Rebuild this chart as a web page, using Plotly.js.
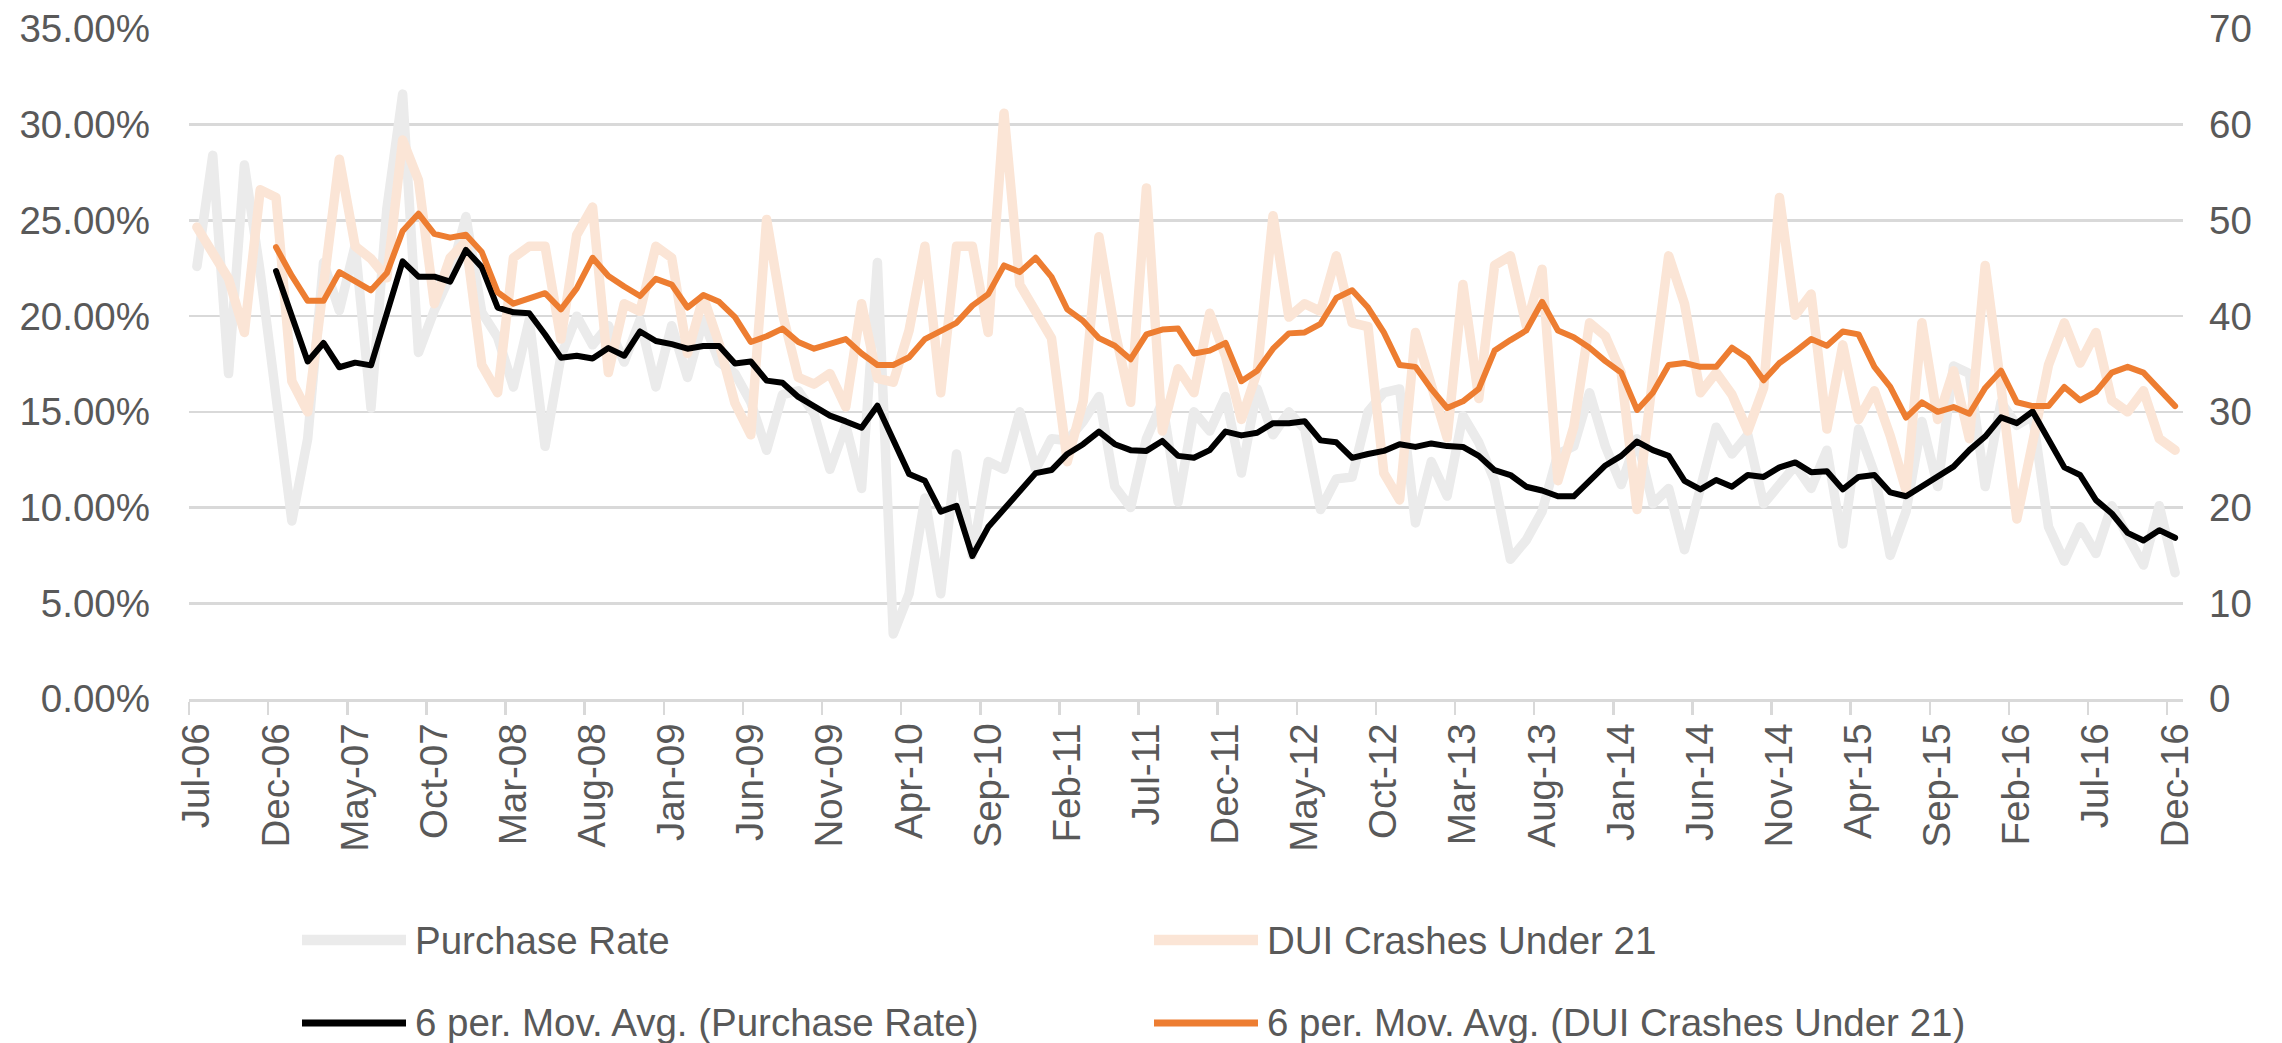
<!DOCTYPE html>
<html>
<head>
<meta charset="utf-8">
<script src="https://cdn.plot.ly/plotly-3.0.1.min.js"></script>
<style>
  html, body { margin: 0; padding: 0; background: #ffffff; }
  #chart { width: 2282px; height: 1043px; }
  #chart .js-line { stroke-linejoin: round; stroke-linecap: round; }
</style>
</head>
<body>
<div id="chart"></div>
<script>
// ---------- DATA ----------
const monthNames = ["Jan","Feb","Mar","Apr","May","Jun","Jul","Aug","Sep","Oct","Nov","Dec"];
const firstYear = 2006, firstMonth = 6;   // Jul-06
const lastYear = 2016, lastMonth = 11;    // Dec-16
const months = [];
for (let y = firstYear; y <= lastYear; y++) {
  for (let m = 0; m < 12; m++) {
    if (y === firstYear && m < firstMonth) continue;
    if (y === lastYear && m > lastMonth) continue;
    months.push(monthNames[m] + "-" + String(y % 100).padStart(2, "0"));
  }
}

// Purchase Rate (%), Jul-06 .. Dec-16
const purchaseRate = [
  22.6, 28.4, 17.0, 27.9, 22.3, 16.0,  9.3, 13.6, 22.8, 20.3, 23.7, 15.2, 25.6, 31.6, 18.1, 20.3, 22.1, 25.2, 20.2, 18.9,
  16.3, 19.8, 13.2, 17.9, 20.0, 18.5, 19.5, 17.6, 19.8, 16.3, 19.5, 16.8, 19.8, 17.6, 17.0, 15.5, 13.0, 15.9, 16.1, 14.9,
  12.0, 14.3, 11.0, 22.8,  3.4,  5.5, 10.5,  5.5, 12.8,  7.5, 12.4, 12.0, 15.0, 12.0, 13.6, 13.5, 14.5, 15.8, 11.1, 10.0,
  13.6, 15.5, 10.3, 15.0, 14.0, 15.8, 11.8, 16.2, 13.8, 15.0, 14.1,  9.9, 11.5, 11.6, 15.0, 16.0, 16.2,  9.2, 12.4, 10.6,
  14.8, 13.4, 11.4,  7.3,  8.3,  9.8, 12.8, 13.2, 16.0, 13.2, 11.2, 13.6, 10.2, 11.0,  7.8, 11.0, 14.2, 12.8, 13.8, 10.2,
  11.2, 12.2, 11.0, 13.0,  8.1, 14.1, 11.8,  7.5,  9.8, 14.5, 11.1, 17.4, 17.0, 11.1, 15.5, 14.3, 14.8,  9.0,  7.2,  9.0,
   7.6, 10.1,  8.5,  7.0, 10.1,  6.6
];

// DUI Crashes Under 21 (count), Jul-06 .. Dec-16
const duiCrashes = [
  49.3, 46.5, 43.9, 38.3, 53.2, 52.4, 33.2, 30.0, 43.9, 56.4, 47.3, 46.0, 44.0, 58.4, 54.2, 41.3, 46.1, 47.8, 34.9, 32.0,
  46.1, 47.3, 47.3, 37.6, 48.5, 51.4, 34.1, 41.3, 40.5, 47.3, 46.1, 36.1, 42.0, 37.1, 30.9, 27.6, 50.1, 40.3, 33.6, 32.9,
  34.0, 30.5, 41.3, 33.5, 33.1, 38.5, 47.3, 32.0, 47.3, 47.3, 38.3, 61.2, 43.3, 40.5, 37.7, 24.8, 31.1, 48.3, 38.5, 31.0,
  53.4, 28.0, 34.5, 32.0, 40.3, 35.8, 29.2, 34.2, 50.5, 39.9, 41.3, 40.5, 46.3, 39.3, 38.9, 23.6, 20.8, 38.3, 32.5, 27.3,
  43.3, 31.4, 45.3, 46.3, 39.0, 44.9, 22.8, 28.4, 39.3, 37.9, 34.1, 19.8, 33.6, 46.3, 41.3, 32.0, 34.1, 31.8, 28.0, 32.5,
  52.4, 40.1, 42.3, 28.2, 37.0, 29.2, 32.2, 27.5, 21.8, 39.3, 29.2, 34.3, 27.2, 45.3, 32.6, 18.8, 26.8, 34.9, 39.3, 35.1,
  38.3, 31.2, 30.0, 32.2, 27.2, 26.0
];

// 6 per. Mov. Avg. (Purchase Rate) as drawn, starting Dec-06
const maPurchaseRate = [
  null, null, null, null, null,
  22.36, 20.0, 17.63, 18.6, 17.33, 17.57, 17.43, 20.15, 22.86, 22.06, 22.06, 21.8, 23.46, 22.56, 20.45,
  20.2, 20.15, 19.04, 17.83, 17.93, 17.79, 18.33, 17.93, 19.2, 18.7, 18.54, 18.3, 18.44, 18.44, 17.53, 17.63, 16.63, 16.52, 15.78, 15.32,
  14.8, 14.5, 14.17, 15.32, 13.61, 11.76, 11.4, 9.79, 10.09, 7.47, 8.98, 9.89, 10.8, 11.8, 11.96, 12.8, 13.31, 13.97, 13.31, 13.0,
  12.96, 13.48, 12.7, 12.6, 13.0, 13.97, 13.77, 13.91, 14.41, 14.41, 14.51, 13.51, 13.41, 12.6, 12.8, 12.96, 13.31, 13.17, 13.35, 13.21,
  13.17, 12.7, 11.95, 11.7, 11.09, 10.89, 10.59, 10.59, 11.4, 12.2, 12.7, 13.45, 13.0, 12.7, 11.4, 10.95, 11.44, 11.09, 11.7, 11.6,
  12.1, 12.36, 11.85, 11.9, 10.95, 11.6, 11.7, 10.79, 10.59, 11.09, 11.6, 12.14, 13.0, 13.71, 14.71, 14.41, 15.02, 13.61, 12.1, 11.7,
  10.39, 9.69, 8.68, 8.28, 8.82, 8.42
];

// 6 per. Mov. Avg. (DUI Crashes Under 21) as drawn, starting Dec-06
const maDuiCrashes = [
  null, null, null, null, null,
  47.2, 44.2, 41.6, 41.6, 44.6, 43.6, 42.7, 44.5, 48.9, 50.7, 48.6, 48.2, 48.5, 46.7, 42.5,
  41.3, 41.9, 42.4, 40.7, 42.9, 46.1, 44.2, 43.1, 42.1, 43.9, 43.3, 40.9, 42.2, 41.5, 39.9, 37.3, 37.9, 38.7, 37.3, 36.6,
  37.1, 37.6, 36.1, 34.9, 34.9, 35.7, 37.6, 38.4, 39.3, 41.1, 42.3, 45.3, 44.6, 46.1, 44.1, 40.7, 39.5, 37.7, 36.9, 35.5,
  38.1, 38.6, 38.7, 36.1, 36.4, 37.2, 33.2, 34.3, 36.6, 38.2, 38.3, 39.2, 41.9, 42.7, 40.9, 38.3, 34.9, 34.7, 32.4, 30.4,
  31.1, 32.4, 36.4, 37.5, 38.5, 41.5, 38.5, 37.8, 36.7, 35.3, 34.1, 30.2, 32.0, 34.9, 35.1, 34.7, 34.7, 36.7, 35.6, 33.3,
  35.1, 36.3, 37.6, 36.9, 38.4, 38.1, 34.7, 32.6, 29.4, 31.0, 30.0, 30.5, 29.8, 32.5, 34.3, 31.0, 30.6, 30.6, 32.6, 31.2,
  32.1, 34.1, 34.7, 34.1, 32.4, 30.6
];

const seriesNames = [
  "Purchase Rate",
  "DUI Crashes Under 21",
  "6 per. Mov. Avg. (Purchase Rate)",
  "6 per. Mov. Avg. (DUI Crashes Under 21)"
];

// ---------- STYLE ----------
const W = 2282, H = 1043;
const M = { l: 189, r: 99, t: 29, b: 344 };
const FONT = "Liberation Sans, Arial, sans-serif";
const TXT = "#595959";
const GRID = "#d9d9d9";
const colors = ["#ebebeb", "#fbe5d6", "#000000", "#ed7d31"];
const widths = [9.5, 9.5, 6, 6];

const traces = [
  { x: months, y: purchaseRate,   name: seriesNames[0], type: "scatter", mode: "lines", yaxis: "y",  line: { color: colors[0], width: widths[0] } },
  { x: months, y: duiCrashes,     name: seriesNames[1], type: "scatter", mode: "lines", yaxis: "y2", line: { color: colors[1], width: widths[1] } },
  { x: months, y: maPurchaseRate, name: seriesNames[2], type: "scatter", mode: "lines", yaxis: "y3", line: { color: colors[2], width: widths[2] } },
  { x: months, y: maDuiCrashes,   name: seriesNames[3], type: "scatter", mode: "lines", yaxis: "y4", line: { color: colors[3], width: widths[3] } }
];

// custom legend (pixel positions converted to paper coords)
const pw = W - M.l - M.r, ph = H - M.t - M.b;
const px = v => (v - M.l) / pw;
const py = v => (H - M.b - v) / ph;
const legendItems = [
  { i: 0, x0: 302,  x1: 406,  tx: 413,  y: 940 },
  { i: 1, x0: 1154, x1: 1258, tx: 1265, y: 940 },
  { i: 2, x0: 302,  x1: 406,  tx: 413,  y: 1023 },
  { i: 3, x0: 1154, x1: 1258, tx: 1265, y: 1023 }
];
const shapes = legendItems.map(it => ({
  type: "line", xref: "paper", yref: "paper",
  x0: px(it.x0), x1: px(it.x1), y0: py(it.y), y1: py(it.y),
  line: { color: colors[it.i], width: widths[it.i] + 1 }
}));
const annotations = legendItems.map(it => ({
  xref: "paper", yref: "paper", x: px(it.tx), y: py(it.y),
  xanchor: "left", yanchor: "middle", showarrow: false,
  text: seriesNames[it.i],
  font: { family: FONT, size: 38.5, color: TXT }
}));

const layout = {
  width: W, height: H,
  margin: M,
  paper_bgcolor: "#ffffff", plot_bgcolor: "#ffffff",
  showlegend: false,
  hovermode: false,
  font: { family: FONT, size: 38.5, color: TXT },
  xaxis: {
    type: "category",
    categoryorder: "array", categoryarray: months,
    range: [-0.5, months.length - 0.5],
    tickmode: "linear", tick0: 0, dtick: 5,
    tickson: "boundaries",
    ticks: "outside", ticklen: 13, tickwidth: 2.5, tickcolor: GRID,
    tickangle: -90,
    showgrid: false, zeroline: false,
    showline: true, linecolor: GRID, linewidth: 3,
    tickfont: { family: FONT, size: 38.5, color: TXT },
    ticklabelstandoff: 6
  },
  yaxis: {
    range: [0, 35], tickmode: "linear", tick0: 0, dtick: 5,
    tickformat: ".2f", ticksuffix: "%",
    showgrid: true, gridcolor: GRID, gridwidth: 2.5,
    zeroline: false, showline: false, ticks: "",
    tickfont: { family: FONT, size: 38.5, color: TXT },
    ticklabelstandoff: 38
  },
  yaxis2: {
    overlaying: "y", side: "right",
    range: [0, 70], tickmode: "linear", tick0: 0, dtick: 10,
    showgrid: false, zeroline: false, showline: false, ticks: "",
    tickfont: { family: FONT, size: 38.5, color: TXT },
    ticklabelstandoff: 25
  },
  yaxis3: { overlaying: "y", range: [0, 35], visible: false },
  yaxis4: { overlaying: "y", range: [0, 70], visible: false },
  shapes: shapes,
  annotations: annotations
};

Plotly.newPlot("chart", traces, layout, { staticPlot: true, displayModeBar: false });
</script>
</body>
</html>
